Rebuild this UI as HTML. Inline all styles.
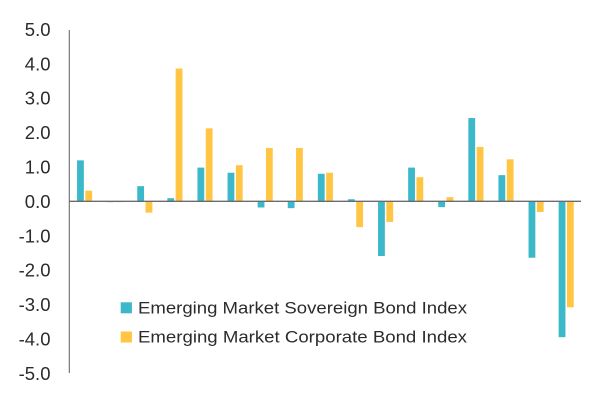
<!DOCTYPE html>
<html><head><meta charset="utf-8"><style>
html,body{margin:0;padding:0;background:#fff;}
svg{display:block;}
text{font-family:"Liberation Sans",sans-serif;fill:#2b2b2b;}
</style></head><body>
<svg width="600" height="407" viewBox="0 0 600 407" xmlns="http://www.w3.org/2000/svg">
<rect width="600" height="407" fill="#fff"/>
<g font-size="18.5" text-anchor="end">
<text x="50.5" y="35.9">5.0</text>
<text x="50.5" y="70.3">4.0</text>
<text x="50.5" y="104.7">3.0</text>
<text x="50.5" y="139.1">2.0</text>
<text x="50.5" y="173.5">1.0</text>
<text x="50.5" y="207.9">0.0</text>
<text x="50.5" y="242.3">-1.0</text>
<text x="50.5" y="276.7">-2.0</text>
<text x="50.5" y="311.1">-3.0</text>
<text x="50.5" y="345.5">-4.0</text>
<text x="50.5" y="379.9">-5.0</text>
</g>
<g fill="#3bb8c9">
<rect x="77.05" y="160.36" width="6.8" height="40.94"/>
<rect x="107.15" y="201.3" width="6.8" height="1.03" opacity="0.5"/>
<rect x="137.25" y="186.16" width="6.8" height="15.14"/>
<rect x="167.35" y="198.2" width="6.8" height="3.1"/>
<rect x="197.45" y="167.59" width="6.8" height="33.71"/>
<rect x="227.55" y="172.75" width="6.8" height="28.55"/>
<rect x="257.65" y="201.3" width="6.8" height="6.19"/>
<rect x="287.75" y="201.3" width="6.8" height="6.88"/>
<rect x="317.85" y="173.78" width="6.8" height="27.52"/>
<rect x="347.95" y="199.24" width="6.8" height="2.06"/>
<rect x="378.05" y="201.3" width="6.8" height="54.7"/>
<rect x="408.15" y="167.59" width="6.8" height="33.71"/>
<rect x="438.25" y="201.3" width="6.8" height="5.85"/>
<rect x="468.35" y="118.05" width="6.8" height="83.25"/>
<rect x="498.45" y="175.16" width="6.8" height="26.14"/>
<rect x="528.55" y="201.3" width="6.8" height="56.42"/>
<rect x="558.65" y="201.3" width="6.8" height="135.88"/>
</g>
<g fill="#ffc543">
<rect x="85.35" y="190.64" width="6.8" height="10.66"/>
<rect x="115.45" y="201.3" width="6.8" height="1.03" opacity="0.5"/>
<rect x="145.55" y="201.3" width="6.8" height="11.35"/>
<rect x="175.65" y="68.52" width="6.8" height="132.78"/>
<rect x="205.75" y="128.37" width="6.8" height="72.93"/>
<rect x="235.85" y="165.18" width="6.8" height="36.12"/>
<rect x="265.95" y="147.98" width="6.8" height="53.32"/>
<rect x="296.05" y="147.98" width="6.8" height="53.32"/>
<rect x="326.15" y="172.75" width="6.8" height="28.55"/>
<rect x="356.25" y="201.3" width="6.8" height="25.8"/>
<rect x="386.35" y="201.3" width="6.8" height="20.64"/>
<rect x="416.45" y="177.22" width="6.8" height="24.08"/>
<rect x="446.55" y="197.17" width="6.8" height="4.13"/>
<rect x="476.65" y="146.95" width="6.8" height="54.35"/>
<rect x="506.75" y="159.33" width="6.8" height="41.97"/>
<rect x="536.85" y="201.3" width="6.8" height="10.66"/>
<rect x="566.95" y="201.3" width="6.8" height="105.95"/>
</g>
<line x1="69.3" y1="30" x2="69.3" y2="373" stroke="#6b6b6b" stroke-width="1.1"/>
<line x1="69.3" y1="201.3" x2="581" y2="201.3" stroke="#6b6b6b" stroke-width="1.3"/>
<rect x="120.7" y="302.3" width="11.2" height="11" fill="#3bb8c9"/>
<rect x="120.7" y="331.5" width="11.2" height="11" fill="#ffc543"/>
<text x="138" y="313.3" font-size="17" textLength="329" lengthAdjust="spacingAndGlyphs">Emerging Market Sovereign Bond Index</text>
<text x="138" y="342.7" font-size="17" textLength="329" lengthAdjust="spacingAndGlyphs">Emerging Market Corporate Bond Index</text>
</svg>
</body></html>
